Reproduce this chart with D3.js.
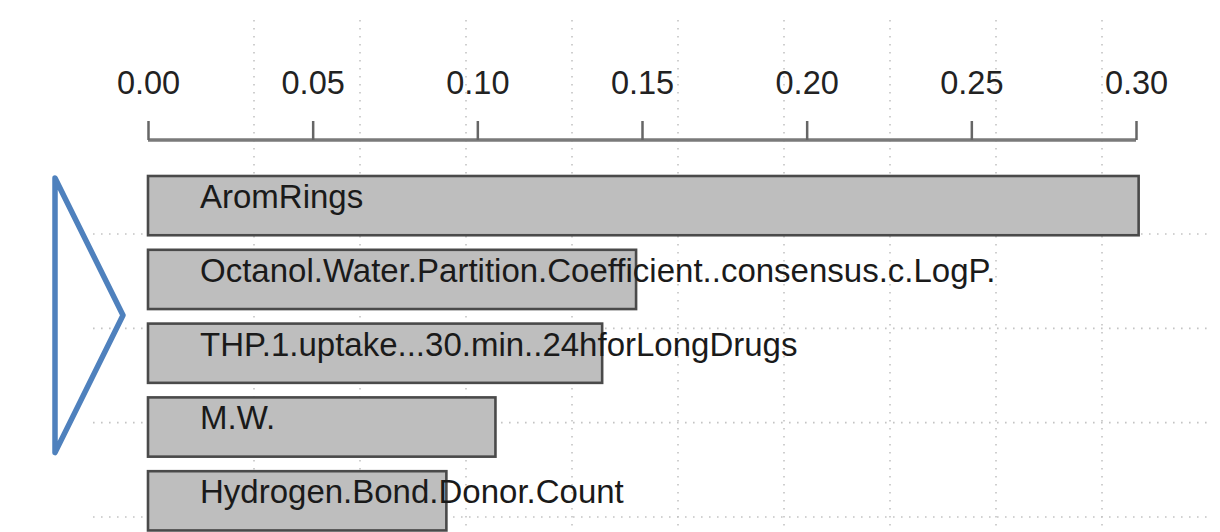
<!DOCTYPE html>
<html>
<head>
<meta charset="utf-8">
<script src="https://cdn.jsdelivr.net/npm/d3@7"></script>
<style>
  html, body { margin: 0; padding: 0; background: #fff; }
  svg { display: block; font-family: "Liberation Sans", Arial, Helvetica, sans-serif; }
</style>
</head>
<body>
<svg id="chart" width="1220" height="532"></svg>
<script>
// Variable importance, top five predictors
const features = [
  "AromRings",
  "Octanol.Water.Partition.Coefficient..consensus.c.LogP.",
  "THP.1.uptake...30.min..24hforLongDrugs",
  "M.W.",
  "Hydrogen.Bond.Donor.Count"
];
const importance = [0.3008, 0.1482, 0.1379, 0.1055, 0.0906];
const tickValues = [0.00, 0.05, 0.10, 0.15, 0.20, 0.25, 0.30];
const tickLabels = ["0.00", "0.05", "0.10", "0.15", "0.20", "0.25", "0.30"];

const W = 1220, H = 532;
const svg = d3.select("#chart");

// value scale along the top axis
const x = d3.scaleLinear().domain([0, 0.30]).range([148, 1136]);

// one band per feature
const step = 73.8, padIn = 0.17;
const y = d3.scaleBand()
  .domain(features)
  .range([175, 175 + step * (features.length - padIn)])
  .paddingInner(padIn)
  .paddingOuter(0);

// background dotted grid
const gx = d3.scaleLinear().domain([0, 10]).range([148, 1208]);
const gy = d3.scaleLinear().domain([0, 3]).range([234, 517]);
const grid = svg.append("g").attr("stroke", "#c4c4c4").attr("stroke-width", 1.6)
  .attr("stroke-dasharray", "1.6,6.4");
grid.selectAll("line.v").data(d3.range(1, 10)).join("line")
  .attr("class", "v")
  .attr("x1", d => gx(d)).attr("x2", d => gx(d))
  .attr("y1", 20).attr("y2", H);
grid.selectAll("line.h").data(d3.range(0, 4)).join("line")
  .attr("class", "h")
  .attr("x1", 93).attr("x2", 1208)
  .attr("y1", d => gy(d)).attr("y2", d => gy(d));

// top axis
const axisG = svg.append("g").attr("transform", "translate(0,140)")
  .call(d3.axisTop(x).tickValues(tickValues).tickFormat((d, i) => tickLabels[i])
    .tickSize(19).tickSizeOuter(0).tickPadding(27));
axisG.select(".domain").attr("stroke", "#7a7a7a").attr("stroke-width", 3.5)
  .attr("d", `M${x(0)},0H${x(0.30)}`);
axisG.selectAll(".tick line").attr("stroke", "#666").attr("stroke-width", 2.5);
axisG.selectAll(".tick text")
  .attr("fill", "#222")
  .style("font-size", "32.5px")
  .style("font-family", "'Liberation Sans', Arial, sans-serif");

// bars
svg.append("g").selectAll("rect").data(features).join("rect")
  .attr("x", x(0))
  .attr("y", d => y(d) + 1)
  .attr("width", (d, i) => x(importance[i]) - x(0))
  .attr("height", y.bandwidth() - 2)
  .attr("fill", "#bebebe")
  .attr("stroke", "#4a4a4a")
  .attr("stroke-width", 2.6);

// feature names drawn over the bars
svg.append("g").selectAll("text").data(features).join("text")
  .attr("x", 200)
  .attr("y", d => y(d) + 33)
  .attr("fill", "#1a1a1a")
  .style("font-size", "33px")
  .text(d => d);

// bracket marker on the left
const markTop = y(features[0]) + 3;
const markBottom = y(features[3]) + y.bandwidth() - 5;
const tri = [[55, markTop], [123, (markTop + markBottom) / 2], [55, markBottom]];
svg.append("path")
  .attr("d", d3.line()(tri) + "Z")
  .attr("fill", "none")
  .attr("stroke", "#4f81bd")
  .attr("stroke-width", 5.5)
  .attr("stroke-linejoin", "round");
</script>
</body>
</html>
